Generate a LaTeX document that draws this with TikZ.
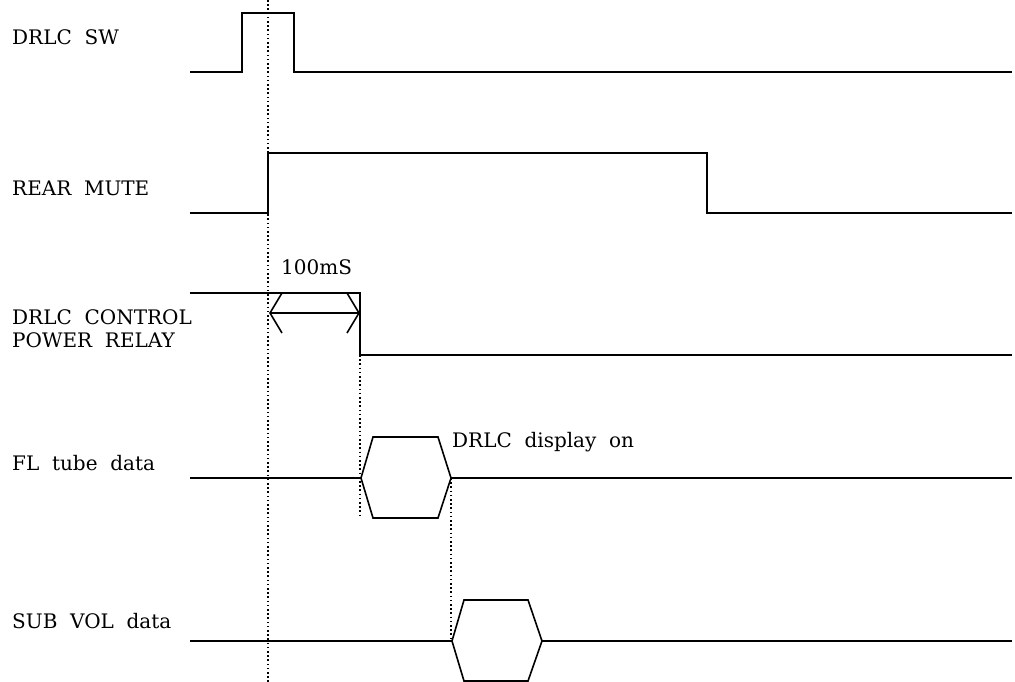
\documentclass[tikz,border=0pt]{standalone}
\usepackage{fontspec}
\setmainfont{DejaVu Serif}[WordSpace=2]
\begin{document}
\begin{tikzpicture}[x=1pt,y=-1pt,
  sig/.style={line width=1.6pt,line join=miter},
  guide/.style={line width=1.6pt,dash pattern=on 1.6pt off 2.6pt},
  lbl/.style={anchor=base west,inner sep=0pt,font=\fontsize{20}{23}\selectfont},
  tip/.style={line width=1.6pt}]
\useasboundingbox (0,0) rectangle (1015,682);
% labels
\node[lbl] (l1) at (12,45) {DRLC SW};
\node[lbl] (l2) at (12,195) {REAR MUTE};
\node[lbl,align=left,anchor=north west] (l3) at (12,309) {DRLC CONTROL\\POWER RELAY};
\node[lbl] (l4) at (12,470) {FL tube data};
\node[lbl] (l5) at (12,628) {SUB VOL data};
\node[lbl] (t100) at (281,274) {100mS};
\node[lbl] (tdisp) at (452,447) {DRLC display on};
% guides
\draw[guide] (268,0) -- (268,682);
\draw[guide] (360,355) -- (360,518);
\draw[guide] (451,478) -- (451,641);
% DRLC SW
\draw[sig] (190,72) -- (242,72) -- (242,13) -- (294,13) -- (294,72) -- (1012,72);
% REAR MUTE
\draw[sig] (190,213) -- (268,213) -- (268,153) -- (707,153) -- (707,213) -- (1012,213);
% DRLC CONTROL POWER RELAY
\draw[sig] (190,293) -- (360,293) -- (360,355) -- (1012,355);
% 100mS dimension
\coordinate (dA) at (270,313);
\coordinate (dB) at (359,313);
\draw[tip] (dA) -- (dB);
\draw[tip] (282,293) -- (dA) -- (282,333);
\draw[tip] (347,293) -- (dB) -- (347,333);
% FL tube data
\draw[sig] (190,478) -- (361,478);
\draw[sig] (361,478) -- (373,437) -- (438,437) -- (451,478) -- (438,518) -- (373,518) -- cycle;
\draw[sig] (451,478) -- (1012,478);
% SUB VOL data
\draw[sig] (190,641) -- (452,641);
\draw[sig] (452,641) -- (464,600) -- (528,600) -- (542,641) -- (528,681) -- (464,681) -- cycle;
\draw[sig] (542,641) -- (1012,641);
\end{tikzpicture}
\end{document}
